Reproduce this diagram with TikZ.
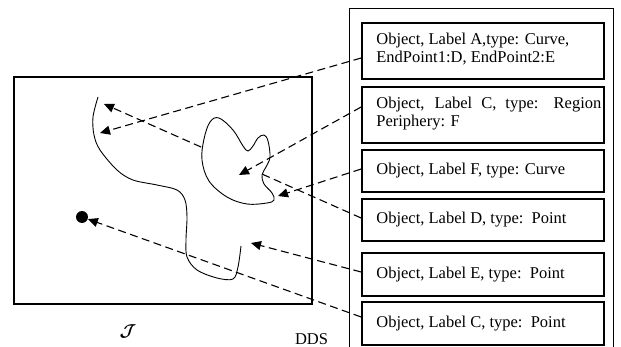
\documentclass[tikz,border=0pt]{standalone}
\usepackage{amsmath}
\usepackage{fontspec}
\setmainfont{Liberation Serif}
\usetikzlibrary{arrows.meta,calc}
\begin{document}
\begin{tikzpicture}[x=1pt,y=-1pt,
  boxnode/.style={draw,line width=1.7pt,minimum width=242pt,inner sep=0pt},
  txt/.style={anchor=west,inner sep=0pt,align=left,font=\fontsize{16.5}{18}\selectfont},
  arr/.style={line width=1.1pt,dash pattern=on 8pt off 4.5pt,-{Triangle[length=10pt,width=9pt]}},
  curveline/.style={line width=0.9pt}]
\useasboundingbox (0,0) rectangle (621,347);
\clip (0,0) rectangle (621,347);
% frames
\draw[line width=1pt] (349,9) rectangle (613,370);
\draw[line width=1.5pt] (14,77) rectangle (312,304);
% boxes
\node[boxnode,minimum height=56pt] (bA) at (483,51) {};
\node[boxnode,minimum height=56pt] (bC) at (483,115) {};
\node[boxnode,minimum height=42pt] (bF) at (483,171) {};
\node[boxnode,minimum height=42pt] (bD) at (483,220) {};
\node[boxnode,minimum height=43pt] (bE) at (483,274.5) {};
\node[boxnode,minimum height=43pt] (bP) at (483,323.5) {};
\node[txt] (tA) at ($(bA.west)+(15,-2)$) {Object, Label A,type: Curve,\\EndPoint1:D, EndPoint2:E};
\node[txt] (tC) at ($(bC.west)+(15,-1)$) {\makebox[225pt][s]{Object, Label C, type: Region}\\Periphery: F};
\node[txt] (tF) at ($(bF.west)+(15,0)$) {Object, Label F, type: Curve};
\node[txt] (tD) at ($(bD.west)+(15,0)$) {Object, Label D, type:\, Point};
\node[txt] (tE) at ($(bE.west)+(15,0)$) {Object, Label E, type:\, Point};
\node[txt] (tP) at ($(bP.west)+(15,0)$) {Object, Label C, type:\, Point};
% targets
\coordinate (pA) at (100,133);
\coordinate (pC) at (239,175);
\coordinate (pF) at (278,196);
\coordinate (pD) at (104,104);
\coordinate (pE) at (251,243);
\node[circle,fill,minimum size=12pt,inner sep=0pt] (ptC) at (82,217) {};
% curve A
\draw[curveline] plot[smooth,tension=0.55] coordinates {(98,97) (93,117) (94,135) (100,150) (117,170) (133,180) (157,185) (177,190) (185,200) (187,217) (186,240) (187,257) (197,270) (217,278) (233,279) (238,267) (241,246)};
% D arrow (hidden inside region)
\draw[arr] ($(bD.west)+(0,-2)$) -- (pD);
% region
\draw[curveline,fill=white] plot[smooth cycle,tension=0.6] coordinates {(219,118) (233,130) (243,146) (248,151) (253,146) (258,138) (264,135) (268,141) (270,157) (266,167) (262,175) (264,184) (272,193) (274,200) (267,203) (247,204) (227,197) (209,181) (202,160) (204,139) (210,122)};
% other arrows
\draw[arr] ($(bA.west)+(0,7)$) -- (pA);
\draw[arr] ($(bC.west)+(0,-8)$) -- (pC);
\draw[arr] ($(bF.west)+(0,-2)$) -- (pF);
\draw[arr] ($(bE.west)+(0,-2.5)$) -- (pE);
\draw[arr] ($(bP.west)+(0,-6.5)$) -- (ptC);
% labels
\node[font=\fontsize{18}{18}\selectfont] (jlabel) at (128,331) {$\boldsymbol{\mathcal{J}}$};
\node[anchor=base,inner sep=0pt,font=\fontsize{16.5}{18}\selectfont] (dds) at (311.5,344) {DDS};
\end{tikzpicture}
\end{document}
